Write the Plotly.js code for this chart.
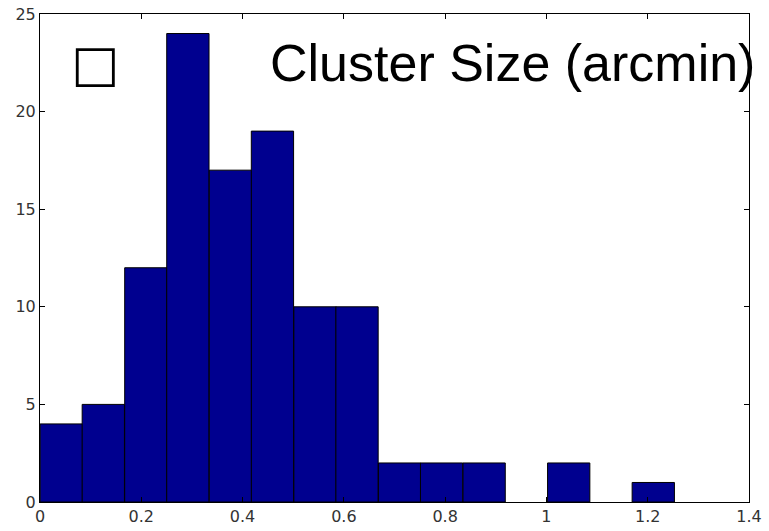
<!DOCTYPE html>
<html>
<head>
<meta charset="utf-8">
<script src="https://cdn.plot.ly/plotly-3.0.1.min.js"></script>
<style>html,body{margin:0;padding:0;background:#fff}#chart{width:769px;height:531px}</style>
</head>
<body>
<div id="chart"></div>
<script>
// Bin centres (arcmin) and counts
const binCenters = [0.042, 0.125, 0.209, 0.292, 0.376, 0.459, 0.543, 0.626, 0.710, 0.793, 0.877, 0.960, 1.044, 1.127, 1.211];
const counts = [4, 5, 12, 24, 17, 19, 10, 10, 2, 2, 2, 0, 2, 0, 1];
const binWidth = 0.0835;
const xTicks = [0, 0.2, 0.4, 0.6, 0.8, 1, 1.2, 1.4];
const xTickText = ['0', '0.2', '0.4', '0.6', '0.8', '1', '1.2', '1.4'];
const yTicks = [0, 5, 10, 15, 20, 25];
const titleText = 'Cluster Size (arcmin)';
const boxGlyph = '\u25A1';

const trace = {
  type: 'bar',
  x: binCenters,
  y: counts,
  width: binCenters.map(() => binWidth),
  marker: {color: '#00008F', line: {color: '#000000', width: counts.map(c => c > 0 ? 1 : 0)}},
  hoverinfo: 'x+y'
};

const tickFont = {family: 'DejaVu Sans, sans-serif', size: 16, color: '#333333'};

const layout = {
  width: 769, height: 531,
  margin: {l: 40, r: 20, t: 14, b: 29, pad: 0},
  paper_bgcolor: '#ffffff', plot_bgcolor: '#ffffff',
  showlegend: false,
  bargap: 0,
  xaxis: {
    range: [0, 1.4], tickvals: xTicks, ticktext: xTickText,
    ticks: 'inside', ticklen: 5, tickcolor: '#000', tickwidth: 1,
    showline: true, linecolor: '#000', linewidth: 1, mirror: 'ticks',
    showgrid: false, zeroline: false, tickfont: tickFont
  },
  yaxis: {
    range: [0, 25], tickvals: yTicks,
    ticks: 'inside', ticklen: 5, tickcolor: '#000', tickwidth: 1,
    showline: true, linecolor: '#000', linewidth: 1, mirror: 'ticks',
    showgrid: false, zeroline: false, tickfont: tickFont
  },
  annotations: [
    {xref: 'paper', yref: 'paper', x: 0.078, y: 0.898, xanchor: 'center', yanchor: 'middle',
     text: '<b>' + boxGlyph + '</b>', showarrow: false,
     font: {family: 'DejaVu Sans', size: 51, color: '#000'}},
    {xref: 'paper', yref: 'paper', x: 0.322, y: 0.963, xanchor: 'left', yanchor: 'top',
     text: titleText, showarrow: false,
     font: {family: 'Liberation Sans, Arial, sans-serif', size: 52, color: '#000'}}
  ]
};

Plotly.newPlot('chart', [trace], layout, {displayModeBar: false, staticPlot: true});
</script>
</body>
</html>
